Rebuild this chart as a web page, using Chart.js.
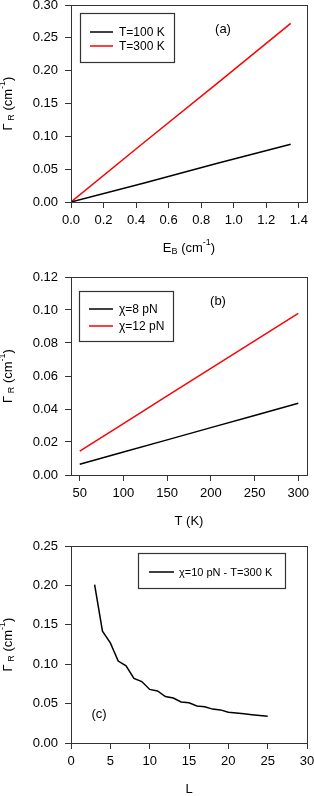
<!DOCTYPE html>
<html>
<head>
<meta charset="utf-8">
<script src="https://cdn.jsdelivr.net/npm/chart.js@4/dist/chart.umd.min.js"></script>
<style>
  body { margin: 0; background: #fff; }
  .panel { position: absolute; left: 0; width: 314px; }
  #pa { top: 0; height: 268px; }
  #pb { top: 268px; height: 272px; }
  #pc { top: 540px; height: 256px; }
</style>
</head>
<body>
<div class="panel" id="pa"><canvas id="chartA"></canvas></div>
<div class="panel" id="pb"><canvas id="chartB"></canvas></div>
<div class="panel" id="pc"><canvas id="chartC"></canvas></div>
<script>
// panel (a): Gamma_R vs E_B
const ebValues = [0, 0.45, 0.9, 1.35];
const gammaT100 = [0, 0.029, 0.059, 0.088];
const gammaT300 = [0, 0.091, 0.181, 0.272];
const ticksAx = [0, 0.2, 0.4, 0.6, 0.8, 1.0, 1.2, 1.4];
const ticksAy = [0, 0.05, 0.10, 0.15, 0.20, 0.25, 0.30];

// panel (b): Gamma_R vs T
const tempValues = [50, 100, 150, 200, 250, 300];
const gammaChi8 = [0.0065, 0.0139, 0.0213, 0.0287, 0.0361, 0.0435];
const gammaChi12 = [0.0145, 0.0312, 0.0479, 0.0646, 0.0813, 0.098];
const ticksBx = [50, 100, 150, 200, 250, 300];
const ticksBy = [0, 0.02, 0.04, 0.06, 0.08, 0.10, 0.12];

// panel (c): Gamma_R vs L
const lValues = [3, 4, 5, 6, 7, 8, 9, 10, 11, 12, 13, 14, 15, 16, 17, 18, 19, 20, 21, 22, 23, 24, 25];
const gammaL = [0.201, 0.142, 0.127, 0.104, 0.098, 0.082, 0.078, 0.068, 0.066, 0.059, 0.057, 0.052,
                0.051, 0.047, 0.046, 0.043, 0.042, 0.039, 0.038, 0.037, 0.036, 0.035, 0.034];
const ticksCx = [0, 5, 10, 15, 20, 25, 30];
const ticksCy = [0, 0.05, 0.10, 0.15, 0.20, 0.25];

const FONT = "'Liberation Sans', Arial, sans-serif";
const AXIS = '#333';

// draws text made of pieces, some of them sub/superscript
function richWidth(ctx, parts, size) {
  let w = 0;
  parts.forEach(p => {
    ctx.font = (p.sub || p.sup ? Math.round(size * 0.7) : size) + 'px ' + FONT;
    w += ctx.measureText(p.t).width;
  });
  return w;
}
function drawRich(ctx, parts, x, y, size) {
  let cx = x - richWidth(ctx, parts, size) / 2;
  ctx.textBaseline = 'middle';
  ctx.textAlign = 'left';
  parts.forEach(p => {
    const s = p.sub || p.sup ? Math.round(size * 0.7) : size;
    ctx.font = s + 'px ' + FONT;
    const dy = p.sub ? 4 : p.sup ? -5 : 0;
    ctx.fillText(p.t, cx, y + dy);
    cx += ctx.measureText(p.t).width;
  });
}

const yTitle = [{ t: 'Γ' }, { t: ' R', sub: true }, { t: ' (cm' }, { t: '-1', sup: true }, { t: ')' }];

const decor = {
  id: 'decor',
  afterDraw(chart, args, opts) {
    const ctx = chart.ctx;
    const a = chart.chartArea;
    ctx.save();
    // frame
    ctx.strokeStyle = AXIS;
    ctx.lineWidth = 1;
    ctx.strokeRect(Math.round(a.left) + 0.5, Math.round(a.top) + 0.5,
      Math.round(a.right - a.left), Math.round(a.bottom - a.top));
    ctx.fillStyle = '#000';
    // axis titles
    drawRich(ctx, opts.xTitle, (a.left + a.right) / 2, a.bottom + 46, 13);
    ctx.save();
    ctx.translate(8, (a.top + a.bottom) / 2);
    ctx.rotate(-Math.PI / 2);
    drawRich(ctx, yTitle, 0, 0, 13);
    ctx.restore();
    // panel tag
    ctx.font = '13px ' + FONT;
    ctx.textAlign = 'center';
    ctx.textBaseline = 'middle';
    ctx.fillText(opts.tag[0], opts.tag[1], opts.tag[2]);
    // legend box
    const L = opts.legend;
    ctx.lineWidth = 1.2;
    ctx.strokeRect(L.x + 0.5, L.y + 0.5, L.w, L.h);
    chart.data.datasets.forEach((ds, i) => {
      const ry = L.rows[i];
      ctx.strokeStyle = ds.borderColor;
      ctx.lineWidth = 1.5;
      ctx.beginPath();
      ctx.moveTo(L.lineX[0], ry);
      ctx.lineTo(L.lineX[1], ry);
      ctx.stroke();
      ctx.fillStyle = '#000';
      ctx.font = L.size + 'px ' + FONT;
      ctx.textAlign = 'left';
      ctx.fillText(ds.label, L.textX, ry + 1);
    });
    ctx.restore();
  }
};

function makeChart(id, xs, series, xr, yr, xt, yt, xDec, axisH, padTop, decorOpts) {
  new Chart(document.getElementById(id), {
    type: 'line',
    data: {
      datasets: series.map(s => ({
        label: s.label,
        data: xs.map((x, i) => ({ x: x, y: s.values[i] })),
        borderColor: s.color,
        borderWidth: 1.5,
        pointRadius: 0,
        tension: 0,
        fill: false
      }))
    },
    options: {
      responsive: true,
      maintainAspectRatio: false,
      animation: false,
      layout: { padding: { top: padTop, right: 7, left: 0, bottom: 0 } },
      plugins: { legend: { display: false }, tooltip: { enabled: false }, decor: decorOpts },
      scales: {
        x: {
          type: 'linear', min: xr[0], max: xr[1],
          afterBuildTicks: s => { s.ticks = xt.map(v => ({ value: v })); },
          afterFit: s => { s.height = axisH; s.paddingLeft = 0; s.paddingRight = 0; },
          grid: { drawOnChartArea: false, tickLength: 6, color: AXIS },
          border: { color: AXIS },
          ticks: { color: '#000', font: { family: FONT, size: 13 }, padding: 5, maxRotation: 0,
                   callback: v => v.toFixed(xDec) }
        },
        y: {
          min: yr[0], max: yr[1],
          afterBuildTicks: s => { s.ticks = yt.map(v => ({ value: v })); },
          afterFit: s => { s.width = 71; s.paddingTop = 0; s.paddingBottom = 0; },
          grid: { drawOnChartArea: false, tickLength: 6, color: AXIS },
          border: { color: AXIS },
          ticks: { color: '#000', font: { family: FONT, size: 13 }, padding: 7,
                   callback: v => v.toFixed(2) }
        }
      }
    },
    plugins: [decor]
  });
}

makeChart('chartA', ebValues,
  [{ label: 'T=100 K', values: gammaT100, color: '#000' },
   { label: 'T=300 K', values: gammaT300, color: '#ff0000' }],
  [0, 1.45], [0, 0.30], ticksAx, ticksAy, 1, 66, 5,
  { xTitle: [{ t: 'E' }, { t: 'B', sub: true }, { t: ' (cm' }, { t: '-1', sup: true }, { t: ')' }],
    tag: ['(a)', 223, 29],
    legend: { x: 80, y: 13, w: 94, h: 49, rows: [32, 46], lineX: [90, 113], textX: 119, size: 12 } });

makeChart('chartB', tempValues,
  [{ label: 'χ=8 pN', values: gammaChi8, color: '#000' },
   { label: 'χ=12 pN', values: gammaChi12, color: '#ff0000' }],
  [40, 310], [0, 0.12], ticksBx, ticksBy, 0, 65, 9,
  { xTitle: [{ t: 'T (K)' }],
    tag: ['(b)', 218, 33],
    legend: { x: 79, y: 23, w: 94, h: 50, rows: [41, 58], lineX: [89, 113], textX: 119, size: 12 } });

makeChart('chartC', lValues,
  [{ label: 'χ=10 pN - T=300 K', values: gammaL, color: '#000' }],
  [0, 30], [0, 0.25], ticksCx, ticksCy, 0, 53, 6,
  { xTitle: [{ t: 'L' }],
    tag: ['(c)', 99, 174],
    legend: { x: 138, y: 13, w: 147, h: 35, rows: [32], lineX: [149, 174], textX: 179, size: 11 } });
</script>
</body>
</html>
